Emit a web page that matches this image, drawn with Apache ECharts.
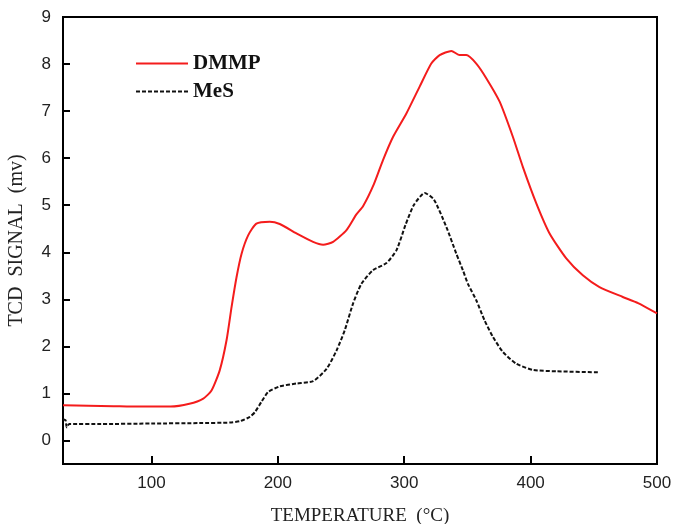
<!DOCTYPE html>
<html>
<head>
<meta charset="utf-8">
<script src="https://cdn.jsdelivr.net/npm/echarts@6/dist/echarts.min.js"></script>
<style>
  html, body { margin: 0; padding: 0; background: #fff; }
  #chart { width: 673px; height: 524px; }
</style>
</head>
<body>
<div id="chart"></div>
<script>
// 데이터
const xTicks = [100, 200, 300, 400, 500];
const yTicks = [0, 1, 2, 3, 4, 5, 6, 7, 8, 9];

const dmmpTemp = [30, 50, 70, 90, 115, 130, 141, 147.5, 154, 159.4, 163.4, 167.3, 171.3, 176.5, 183, 193.6,
    201.5, 214.7, 227.9, 235.8, 243.7, 254.3, 262, 267.4, 276, 283.2, 291.1, 301.7, 312.2, 321.4, 328, 337.3,
    343.8, 349.1, 357, 364.9, 375.5, 386, 393.9, 404.5, 415, 428.2, 441.3, 454.5, 472.9, 485, 500];
const dmmpSignal = [0.75, 0.74, 0.73, 0.72, 0.72, 0.78, 0.89, 1.06, 1.49, 2.13, 2.84, 3.47, 3.97, 4.36, 4.61, 4.65,
    4.6, 4.4, 4.22, 4.16, 4.22, 4.47, 4.8, 4.98, 5.45, 5.96, 6.45, 6.95, 7.52, 8.01, 8.19, 8.28,
    8.19, 8.19, 8.01, 7.7, 7.2, 6.45, 5.81, 5.04, 4.4, 3.87, 3.51, 3.26, 3.05, 2.92, 2.7];

const mesTemp = [30, 32, 33, 35, 60, 100, 138, 162, 170, 177.8, 181.8, 187, 192.3, 201.5, 214.7, 227.9, 238.5,
    246.4, 252.9, 259.5, 266.1, 275.3, 285.9, 293.8, 301, 307.5, 316.2, 323.5, 333.3, 341.2, 346.4, 350.4,
    357, 363.6, 370.2, 378.1, 388.7, 401.8, 420.3, 453.2];
const mesSignal = [0.45, 0.43, 0.28, 0.35, 0.35, 0.36, 0.37, 0.38, 0.41, 0.5, 0.6, 0.82, 1.03, 1.15, 1.21, 1.26, 1.52,
    1.91, 2.34, 2.91, 3.33, 3.62, 3.77, 4.04, 4.58, 5.0, 5.26, 5.12, 4.54, 3.97, 3.62, 3.33,
    2.98, 2.55, 2.2, 1.88, 1.63, 1.5, 1.47, 1.45];

const chart = echarts.init(document.getElementById('chart'));

const serif = '"Liberation Serif", "Times New Roman", serif';
const sans = '"Liberation Sans", Arial, sans-serif';

chart.setOption({
    animation: false,
    grid: {
        left: 63, right: 16, top: 17, bottom: 60,
        outerBoundsMode: 'none',
        containLabel: false,
        show: true, borderColor: '#000', borderWidth: 2
    },
    legend: {
        orient: 'vertical',
        left: 130, top: 48,
        itemWidth: 52, itemHeight: 14, itemGap: 7,
        itemStyle: { opacity: 0 },
        textStyle: { fontFamily: serif, fontWeight: 'bold', fontSize: 21, color: '#111' },
        data: ['DMMP', 'MeS']
    },
    xAxis: {
        type: 'value',
        min: 30, max: 500,
        name: 'TEMPERATURE  (°C)',
        nameLocation: 'middle', nameGap: 43,
        nameTextStyle: { fontFamily: serif, fontSize: 19, color: '#222' },
        axisLine: { onZero: false, lineStyle: { color: '#000', width: 2 } },
        axisTick: { inside: true, length: 8, lineStyle: { width: 2, color: '#000' }, customValues: xTicks },
        axisLabel: { fontFamily: sans, fontSize: 17, color: '#222', margin: 11, customValues: xTicks },
        splitLine: { show: false }
    },
    yAxis: {
        type: 'value',
        min: -0.5, max: 9,
        name: 'TCD  SIGNAL  (mv)',
        nameLocation: 'middle', nameGap: 36,
        nameTextStyle: { fontFamily: serif, fontSize: 20, color: '#222' },
        axisLine: { onZero: false, lineStyle: { color: '#000', width: 2 } },
        axisTick: { inside: true, length: 7, lineStyle: { width: 2, color: '#000' }, customValues: yTicks },
        axisLabel: { fontFamily: sans, fontSize: 17, color: '#222', margin: 12, customValues: yTicks },
        splitLine: { show: false }
    },
    series: [
        {
            name: 'DMMP',
            type: 'line',
            symbol: 'none',
            smooth: 0.2,
            data: dmmpTemp.map((t, i) => [t, dmmpSignal[i]]),
            lineStyle: { color: '#f41c1c', width: 2 },
            itemStyle: { color: '#f41c1c' }
        },
        {
            name: 'MeS',
            type: 'line',
            symbol: 'none',
            smooth: 0.2,
            data: mesTemp.map((t, i) => [t, mesSignal[i]]),
            lineStyle: { color: '#111', width: 2, type: [4, 2] },
            itemStyle: { color: '#111' }
        }
    ]
});
</script>
</body>
</html>
